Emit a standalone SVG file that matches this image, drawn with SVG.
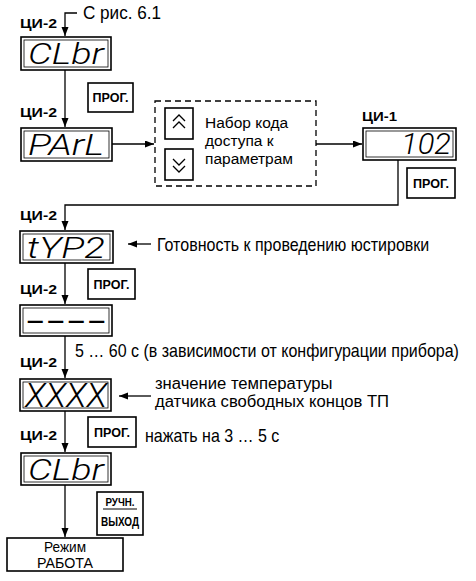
<svg xmlns="http://www.w3.org/2000/svg" width="476" height="581" viewBox="0 0 476 581">
<defs>
<marker id="ah" markerUnits="userSpaceOnUse" markerWidth="10" markerHeight="8" refX="9" refY="3.5" orient="auto">
<path d="M0,0 L9,3.5 L0,7 z" fill="#000"/>
</marker>
</defs>
<style>
.t{font-family:"Liberation Sans",Arial,sans-serif;font-size:18px;fill:#000}
.t2{font-family:"Liberation Sans",Arial,sans-serif;font-size:15.5px;fill:#000}
.t3{font-family:"Liberation Sans",Arial,sans-serif;font-size:16px;fill:#000}
.lb{font-family:"Liberation Sans",Arial,sans-serif;font-size:12.5px;font-weight:bold;fill:#000}
.seg{font-family:Roboto,"Liberation Sans",sans-serif;font-size:30px;font-style:italic;font-weight:300;fill:#000}
.box{fill:#fff;stroke:#000;stroke-width:1.6}
.inner{fill:none;stroke:#000;stroke-width:0.8}
.btn{fill:#fff;stroke:#000;stroke-width:1.6}
.ln{fill:none;stroke:#000;stroke-width:1.3}
.ic{fill:none;stroke:#000;stroke-width:1.3}
</style>
<g id="connectors">
<path class="ln" d="M77,13 H65 V36" marker-end="url(#ah)"/>
<path class="ln" d="M65,70 V127" marker-end="url(#ah)"/>
<path class="ln" d="M112,144 H154" marker-end="url(#ah)"/>
<path class="ln" d="M316,144 H362" marker-end="url(#ah)"/>
<path class="ln" d="M398,160 V205 H65 V230" marker-end="url(#ah)"/>
<path class="ln" d="M65,263 V304" marker-end="url(#ah)"/>
<path class="ln" d="M65,336 V378" marker-end="url(#ah)"/>
<path class="ln" d="M65,411 V452" marker-end="url(#ah)"/>
<path class="ln" d="M65,485 V537" marker-end="url(#ah)"/>
<path class="ln" d="M151,244 H128" marker-end="url(#ah)"/>
<path class="ln" d="M151,396 H119" marker-end="url(#ah)"/>
</g>
<g id="from-fig">
<text class="t" x="83" y="19" style="font-size:18.5px" textLength="78" lengthAdjust="spacingAndGlyphs">С рис. 6.1</text>
</g>
<g id="clbr1">
<text class="lb" x="20" y="28" textLength="37" lengthAdjust="spacingAndGlyphs">ЦИ-2</text>
<rect class="box" x="21" y="37" width="90" height="33"/>
<rect class="inner" x="24" y="40" width="84" height="27"/>
<text class="seg" x="28" y="64" textLength="76" lengthAdjust="spacingAndGlyphs">CLbr</text>
</g>
<g id="prog1">
<rect class="btn" x="88" y="83" width="45" height="29"/>
<text class="lb" x="110.5" y="102" text-anchor="middle" textLength="36" lengthAdjust="spacingAndGlyphs">ПРОГ.</text>
</g>
<g id="parl">
<text class="lb" x="20" y="117" textLength="37" lengthAdjust="spacingAndGlyphs">ЦИ-2</text>
<rect class="box" x="21" y="128" width="91" height="33"/>
<rect class="inner" x="24" y="131" width="85" height="27"/>
<text class="seg" x="28" y="155" textLength="76" lengthAdjust="spacingAndGlyphs">PArL</text>
</g>
<g id="code-entry">
<rect x="155" y="101" width="161" height="85" fill="none" stroke="#000" stroke-width="1.3" stroke-dasharray="6,4"/>
<rect class="btn" x="165" y="108" width="28" height="31"/>
<path class="ic" d="M173,121 L179,115 L185,121 M173,128 L179,122 L185,128"/>
<rect class="btn" x="165" y="149" width="28" height="31"/>
<path class="ic" d="M173,159 L179,165 L185,159 M173,166 L179,172 L185,166"/>
<text class="t2" x="205" y="128">Набор кода</text>
<text class="t2" x="205" y="146">доступа к</text>
<text class="t2" x="205" y="164">параметрам</text>
</g>
<g id="ci1">
<text class="lb" x="362" y="121" textLength="35" lengthAdjust="spacingAndGlyphs">ЦИ-1</text>
<rect class="box" x="363" y="128" width="93" height="32"/>
<rect class="inner" x="366" y="131" width="87" height="26"/>
<text class="seg" x="451" y="154" text-anchor="end" textLength="50" lengthAdjust="spacingAndGlyphs">102</text>
</g>
<g id="prog2">
<rect class="btn" x="407" y="168" width="48" height="30"/>
<text class="lb" x="431" y="188" text-anchor="middle" textLength="36" lengthAdjust="spacingAndGlyphs">ПРОГ.</text>
</g>
<g id="typ2">
<text class="lb" x="20" y="220" textLength="37" lengthAdjust="spacingAndGlyphs">ЦИ-2</text>
<rect class="box" x="20" y="231" width="93" height="32"/>
<rect class="inner" x="23" y="234" width="87" height="26"/>
<text class="seg" x="27" y="258" textLength="78" lengthAdjust="spacingAndGlyphs">tYP2</text>
<text class="t" transform="scale(0.89 1)" x="176.4" y="251">Готовность к проведению юстировки</text>
</g>
<g id="prog3">
<rect class="btn" x="88" y="269" width="47" height="30"/>
<text class="lb" x="111.5" y="289" text-anchor="middle" textLength="36" lengthAdjust="spacingAndGlyphs">ПРОГ.</text>
</g>
<g id="dashes">
<text class="lb" x="20" y="294" textLength="37" lengthAdjust="spacingAndGlyphs">ЦИ-2</text>
<rect class="box" x="20" y="305" width="92" height="31"/>
<rect class="inner" x="23" y="308" width="86" height="25"/>
<text x="25" y="330" style="font-family:'Liberation Sans',sans-serif;font-size:30px" textLength="82" lengthAdjust="spacingAndGlyphs">----</text>
</g>
<g id="wait">
<text class="lb" x="20" y="367" textLength="37" lengthAdjust="spacingAndGlyphs">ЦИ-2</text>
<text class="t" transform="scale(0.89 1)" x="84.3" y="357">5 … 60 с (в зависимости от конфигурации прибора)</text>
</g>
<g id="xxxx">
<rect class="box" x="20" y="379" width="91" height="32"/>
<rect class="inner" x="23" y="382" width="85" height="26"/>
<text class="seg" x="25" y="407" style="font-size:33px" textLength="82" lengthAdjust="spacingAndGlyphs">XXXX</text>
<text class="t3" transform="scale(1.04 1)" x="149" y="389">значение температуры</text>
<text class="t3" transform="scale(1.04 1)" x="149" y="407">датчика свободных концов ТП</text>
</g>
<g id="prog4">
<rect class="btn" x="88" y="417" width="48" height="30"/>
<text class="lb" x="112" y="437" text-anchor="middle" textLength="36" lengthAdjust="spacingAndGlyphs">ПРОГ.</text>
<text class="t" transform="scale(0.89 1)" x="162.9" y="442">нажать на 3 … 5 с</text>
</g>
<g id="clbr2">
<text class="lb" x="20" y="440" textLength="37" lengthAdjust="spacingAndGlyphs">ЦИ-2</text>
<rect class="box" x="21" y="453" width="90" height="32"/>
<rect class="inner" x="24" y="456" width="84" height="26"/>
<text class="seg" x="28" y="480" textLength="76" lengthAdjust="spacingAndGlyphs">CLbr</text>
</g>
<g id="manual-exit">
<rect class="btn" x="97" y="492" width="46" height="43"/>
<text class="lb" x="120" y="506" text-anchor="middle" style="font-size:11px" textLength="29" lengthAdjust="spacingAndGlyphs">РУЧН.</text>
<line x1="103" y1="509" x2="137" y2="509" stroke="#000" stroke-width="1"/>
<text class="lb" x="120" y="526" text-anchor="middle" style="font-size:13px" textLength="38" lengthAdjust="spacingAndGlyphs">ВЫХОД</text>
</g>
<g id="work-mode">
<rect class="box" x="7" y="538" width="116" height="33"/>
<text class="t" x="65" y="552" text-anchor="middle" style="font-size:15px" textLength="42" lengthAdjust="spacingAndGlyphs">Режим</text>
<text class="t" x="65" y="568" text-anchor="middle" style="font-size:15px" textLength="56" lengthAdjust="spacingAndGlyphs">РАБОТА</text>
</g>
</svg>
